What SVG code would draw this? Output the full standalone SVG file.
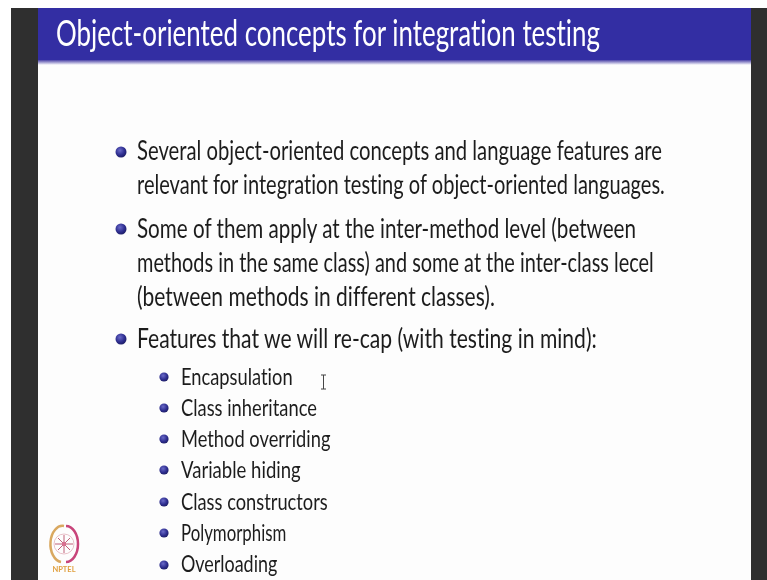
<svg xmlns="http://www.w3.org/2000/svg" width="767" height="580" viewBox="0 0 767 580">
<style>
text{font-family:"Lato","Liberation Sans",sans-serif;font-variant-ligatures:none}
.t{fill:#1c1c1c;font-size:27px}
.s{fill:#1c1c1c;font-size:23px}
.h{fill:#fff;font-size:37px}
</style>
<defs>
<radialGradient id="b" cx="0.4" cy="0.35" r="0.7"><stop offset="0" stop-color="#6a6ac8"/><stop offset="0.6" stop-color="#2e2e90"/><stop offset="1" stop-color="#1c1c60"/></radialGradient>
<linearGradient id="sh" x1="0" y1="0" x2="0" y2="1"><stop offset="0" stop-color="#4c44a8"/><stop offset="1" stop-color="#fff"/></linearGradient>
<filter id="soft" x="-5%" y="-5%" width="110%" height="110%"><feGaussianBlur stdDeviation="0.45"/></filter>
<circle id="d" r="5.500" fill="url(#b)"/>
<circle id="e" r="4.600" fill="url(#b)"/>
</defs>
<rect width="767" height="580" fill="#fff"/>
<rect x="38" y="8" width="713" height="572" fill="#fdfdfd"/>
<rect x="11" y="8" width="27" height="572" fill="#2f2f2f"/>
<rect x="751" y="8" width="16" height="572" fill="#2f2f2f"/>
<rect x="38" y="8" width="713" height="52" fill="#332ea3"/>
<rect x="38" y="60" width="713" height="5" fill="url(#sh)"/>
<g filter="url(#soft)">
<text class="h" transform="translate(56 46) scale(.85 1)" textLength="640" lengthAdjust="spacingAndGlyphs">Object-oriented concepts for integration testing</text>
<use href="#d" x="121" y="152"/>
<text class="t" transform="translate(137 160) scale(.85 1)" textLength="617.600" lengthAdjust="spacingAndGlyphs">Several object-oriented concepts and language features are</text>
<text class="t" transform="translate(137 194) scale(.85 1)" textLength="621" lengthAdjust="spacingAndGlyphs">relevant for integration testing of object-oriented languages.</text>
<use href="#d" x="121" y="229"/>
<text class="t" transform="translate(137 238) scale(.85 1)" textLength="587" lengthAdjust="spacingAndGlyphs">Some of them apply at the inter-method level (between</text>
<text class="t" transform="translate(137 272) scale(.85 1)" textLength="608" lengthAdjust="spacingAndGlyphs">methods in the same class) and some at the inter-class lecel</text>
<text class="t" transform="translate(137 306) scale(.85 1)" textLength="421" lengthAdjust="spacingAndGlyphs">(between methods in different classes).</text>
<use href="#d" x="121" y="339"/>
<text class="t" transform="translate(137 348) scale(.85 1)" textLength="541" lengthAdjust="spacingAndGlyphs">Features that we will re-cap (with testing in mind):</text>
<use href="#e" x="164" y="377"/>
<text class="s" transform="translate(181 385) scale(.9 1)" textLength="124" lengthAdjust="spacingAndGlyphs">Encapsulation</text>
<use href="#e" x="164" y="408"/>
<text class="s" transform="translate(181 416) scale(.9 1)" textLength="151" lengthAdjust="spacingAndGlyphs">Class inheritance</text>
<use href="#e" x="164" y="439"/>
<text class="s" transform="translate(181 447) scale(.9 1)" textLength="166" lengthAdjust="spacingAndGlyphs">Method overriding</text>
<use href="#e" x="164" y="470"/>
<text class="s" transform="translate(181 478) scale(.9 1)" textLength="133" lengthAdjust="spacingAndGlyphs">Variable hiding</text>
<use href="#e" x="164" y="502"/>
<text class="s" transform="translate(181 510) scale(.9 1)" textLength="163" lengthAdjust="spacingAndGlyphs">Class constructors</text>
<use href="#e" x="164" y="533"/>
<text class="s" transform="translate(181 541) scale(.9 1)" textLength="117" lengthAdjust="spacingAndGlyphs">Polymorphism</text>
<use href="#e" x="164" y="565"/>
<text class="s" transform="translate(181 572) scale(.9 1)" textLength="107" lengthAdjust="spacingAndGlyphs">Overloading</text>
<path d="M321 375h5M323.500 375v14M321 389h5" fill="none" stroke="#444" stroke-width="1"/>
<g id="logo" fill="none">
<path d="M64 526A12 18 0 0 0 61 562" stroke="#d9a860" stroke-width="2.500"/>
<path d="M66 526A12 18 0 0 1 66 562" stroke="#c8447a" stroke-width="2.500"/>
<circle cx="64" cy="544" r="10" stroke="#e8c0c8" stroke-width="1"/>
<path d="M64 535v18M55 544h18M58 538l12 12M70 538l-12 12" stroke="#c06078" stroke-width="1"/>
<circle cx="64" cy="544" r="2.200" fill="#d87090"/>
</g>
<text x="64" y="572" text-anchor="middle" font-weight="700" font-size="7.500" fill="#e0a040">NPTEL</text>
</g>
</svg>
